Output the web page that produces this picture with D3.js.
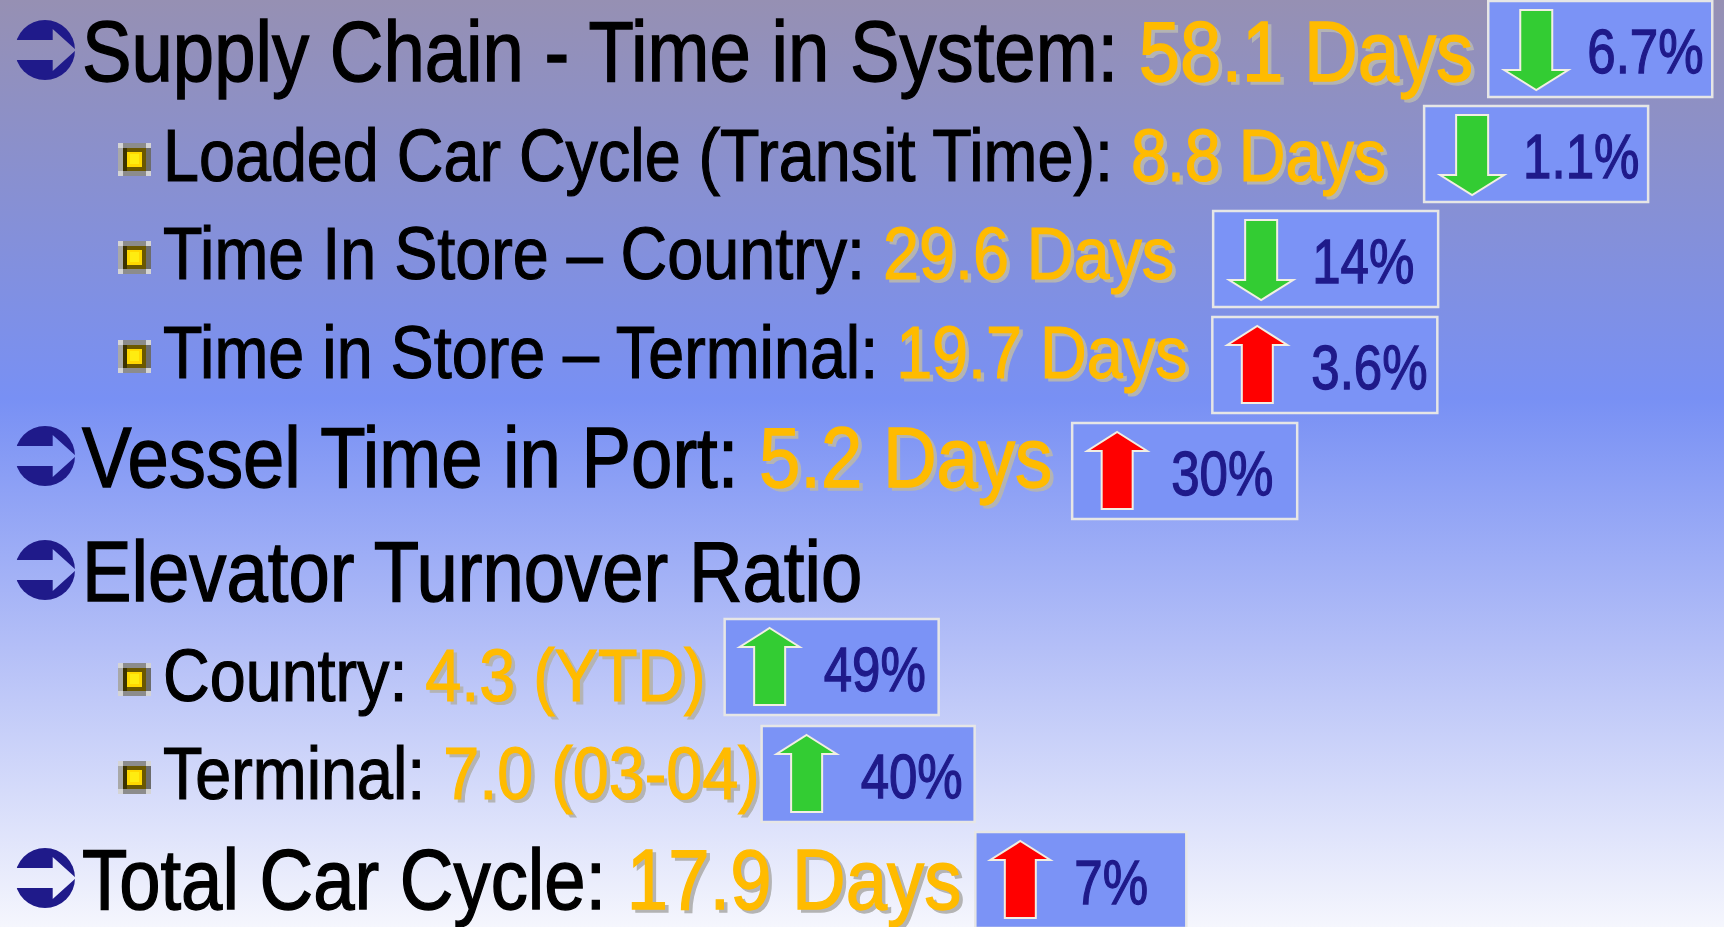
<!DOCTYPE html>
<html><head><meta charset="utf-8">
<script src="https://cdn.jsdelivr.net/npm/d3@7"></script>
<style>html,body{margin:0;padding:0;overflow:hidden;background:#fff}svg{display:block}text{white-space:pre}</style>
</head><body><svg id="c" width="1724" height="927"></svg>
<script>
// ---------- data ----------
const labels = [
  "Supply Chain - Time in System: ",
  "Loaded Car Cycle (Transit Time): ",
  "Time In Store \u2013 Country: ",
  "Time in Store \u2013 Terminal: ",
  "Vessel Time in Port: ",
  "Elevator Turnover Ratio",
  "Country: ",
  "Terminal: ",
  "Total Car Cycle: "
];
const values = ["58.1 Days", "8.8 Days", "29.6 Days", "19.7 Days", "5.2 Days", "", "4.3 (YTD)", "7.0 (03-04)", "17.9 Days"];
const levels = [1, 2, 2, 2, 1, 1, 2, 2, 1];
const changes = ["6.7%", "1.1%", "14%", "3.6%", "30%", "", "49%", "40%", "7%"];
const directions = ["down", "down", "down", "up", "up", "", "up", "up", "up"];
const outcomes = ["good", "good", "good", "bad", "bad", "", "good", "good", "bad"];

// ---------- layout ----------
const W = 1724, H = 927;
const baselines = [81, 181, 279, 378, 487, 601, 701, 799, 909];
const boxGap = [15, 38, 39, 25, 20, 0, 19, 2, 14];
const boxTop = [-80, -75, -68, -61, -64, 0, -82, -73, -77];
const boxW = [224, 224, 225, 225, 225, 0, 214, 213, 211];
const boxH = 96;

const svg = d3.select("#c");
const defs = svg.append("defs");

// background gradient
const bg = defs.append("linearGradient").attr("id", "bg").attr("x1", 0).attr("y1", 0).attr("x2", 0).attr("y2", 1);
[[0, "#9690b3"], [0.43, "#7890f4"], [0.7, "#b4bff7"], [1, "#f5f6fd"]].forEach(([o, c]) =>
  bg.append("stop").attr("offset", o).attr("stop-color", c));
svg.append("rect").attr("width", W).attr("height", H).attr("fill", "url(#bg)");

// bullet mask (cut-out right arrow)
const mask = defs.append("mask").attr("id", "bm").attr("maskUnits", "userSpaceOnUse")
  .attr("x", -40).attr("y", -40).attr("width", 80).attr("height", 80);
mask.append("rect").attr("x", -40).attr("y", -40).attr("width", 80).attr("height", 80).attr("fill", "#fff");
mask.append("path").attr("fill", "#000")
  .attr("d", "M-40,-10 L7.7,-10 L7.7,-21 L31,0 L7.7,21 L7.7,10 L-40,10 Z");

// font detection
function measure(fam) {
  const t = svg.append("text").attr("font-family", fam).attr("font-size", 100).text("Supply Chain Time");
  const w = t.node().getComputedTextLength(); t.remove(); return w;
}
const wN = measure("'Liberation Sans Narrow', 'DejaVu Sans'");
const wR = measure("'Liberation Sans', 'DejaVu Sans'");
const narrow = wN / wR < 0.9;
const fam = narrow ? "'Liberation Sans Narrow', 'Liberation Sans', sans-serif" : "'Liberation Sans', Arial, sans-serif";
const baseRatio = narrow ? wN / wR : 1;
const sxMain = 0.874 / baseRatio;
const sxPct = 0.81 / baseRatio;

const navy = "#1f1a8a", orange = "#ffbb00", shadow = "#b4b4b4";
const arrowFill = { good: "#33cc33", bad: "#ff0000" };
const line = d3.line();

function arrowPoints(dir) {
  if (dir === "down") {
    const cx = 48;
    return [[cx - 16, 9], [cx + 16, 9], [cx + 16, 69], [cx + 32, 69], [cx, 89], [cx - 32, 69], [cx - 16, 69]];
  }
  const cx = 45;
  return [[cx, 9], [cx + 30, 28], [cx + 15.5, 28], [cx + 15.5, 86], [cx - 15.5, 86], [cx - 15.5, 28], [cx - 30, 28]];
}

labels.forEach((lab, i) => {
  const b = baselines[i];
  const lv = levels[i];
  const fs = lv === 1 ? 85 : 74;
  const x0 = lv === 1 ? 82 : 163;
  const sw = lv === 1 ? 1.4 : 1.2;

  // bullets
  if (lv === 1) {
    svg.append("g").attr("transform", `translate(45,${b - 31})`)
      .append("circle").attr("r", 30).attr("fill", navy).attr("mask", "url(#bm)");
  } else {
    const sq = svg.append("g").attr("transform", `translate(118,${b - 38})`);
    sq.append("rect").attr("width", 33).attr("height", 33).attr("fill", "#8c8c8c");
    sq.append("rect").attr("width", 5).attr("height", 33).attr("fill", "#a8a8a8");
    sq.append("rect").attr("x", 28).attr("width", 5).attr("height", 33).attr("fill", "#6c6c6c");
    [[0, 0], [28, 0], [0, 28], [28, 28]].forEach(([cx, cy]) =>
      sq.append("rect").attr("x", cx).attr("y", cy).attr("width", 5).attr("height", 5).attr("fill", "#d4d4d4"));
    sq.append("rect").attr("x", 5).attr("y", 5).attr("width", 23).attr("height", 23).attr("fill", "#6b5800");
    sq.append("rect").attr("x", 5).attr("y", 5).attr("width", 4).attr("height", 23).attr("fill", "#3c3200");
    sq.append("rect").attr("x", 9).attr("y", 9).attr("width", 15).attr("height", 15).attr("fill", "#ffd800");
    sq.append("rect").attr("x", 12).attr("y", 11).attr("width", 9).attr("height", 10).attr("fill", "#ffec10");
  }

  // text
  const g = svg.append("g").attr("transform", `translate(${x0},${b}) scale(${sxMain},1)`)
    .attr("font-family", fam).attr("font-size", fs);
  if (values[i]) {
    const sh = g.append("text").attr("x", 3.5 / sxMain).attr("y", 3).attr("xml:space", "preserve");
    sh.append("tspan").attr("fill", "none").text(lab);
    sh.append("tspan").attr("fill", shadow).attr("stroke", shadow).attr("stroke-width", sw).text(values[i]);
  }
  const t = g.append("text").attr("xml:space", "preserve");
  t.append("tspan").attr("fill", "#000").attr("stroke", "#000").attr("stroke-width", sw).text(lab);
  if (values[i]) t.append("tspan").attr("fill", orange).attr("stroke", orange).attr("stroke-width", sw).text(values[i]);
  const textEnd = x0 + t.node().getComputedTextLength() * sxMain;

  // change box
  if (changes[i]) {
    const bx = svg.append("g").attr("transform", `translate(${textEnd + boxGap[i]},${b + boxTop[i]})`);
    bx.append("rect").attr("width", boxW[i]).attr("height", boxH)
      .attr("fill", "#7b93f6").attr("stroke", "#e6e6e6").attr("stroke-width", 2.5);
    bx.append("path").attr("d", line(arrowPoints(directions[i])) + "Z")
      .attr("fill", arrowFill[outcomes[i]]).attr("stroke", "#f2efe2").attr("stroke-width", 2)
      .attr("stroke-linejoin", "miter");
    bx.append("g").attr("transform", `translate(99,72) scale(${sxPct},1)`)
      .append("text").attr("font-family", fam).attr("font-size", 63).attr("fill", navy)
      .attr("stroke", navy).attr("stroke-width", 1.3)
      .text(changes[i]);
  }
});
</script>
</body></html>
